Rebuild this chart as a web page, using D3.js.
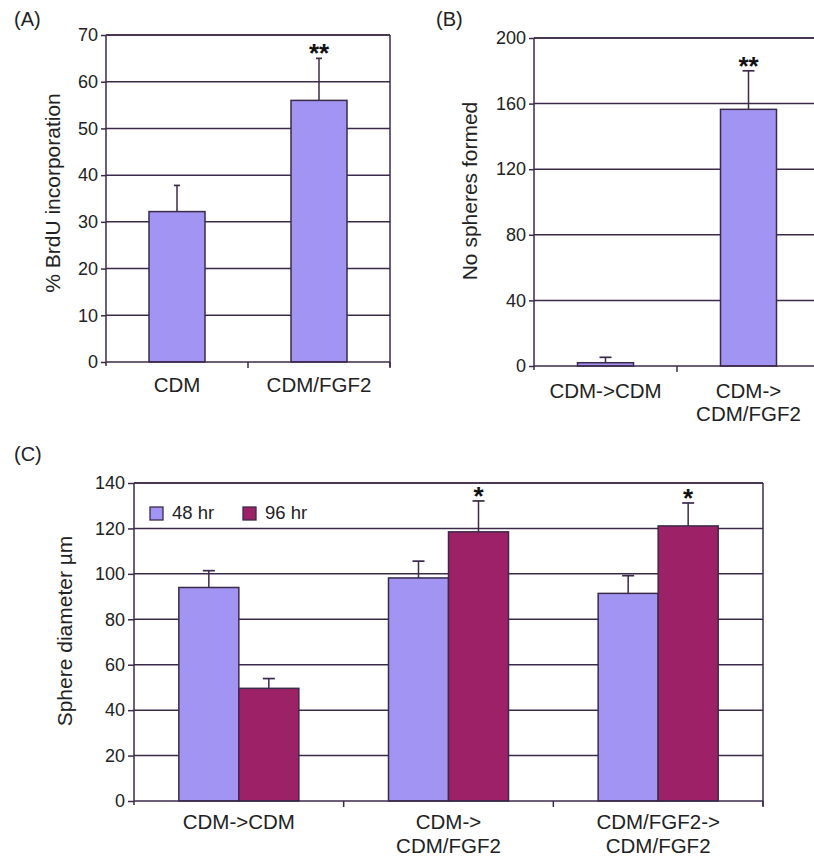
<!DOCTYPE html>
<html>
<head>
<meta charset="utf-8">
<script src="https://cdn.jsdelivr.net/npm/d3@7"></script>
<style>
  html, body { margin: 0; padding: 0; background: #fff; }
  svg text { font-family: "Liberation Sans", Arial, Helvetica, sans-serif; fill: #222; }
</style>
</head>
<body>
<svg id="chart" width="814" height="857"></svg>
<script>
// ---------- Data ----------
// Panel A
const catsA = ["CDM", "CDM/FGF2"];
const valuesA = [32.2, 56.0];
const errorsA = [5.6, 9.0];
const sigA = ["", "**"];
const ticksA = [0, 10, 20, 30, 40, 50, 60, 70];

// Panel B
const catsB = [["CDM->CDM"], ["CDM->", "CDM/FGF2"]];
const valuesB = [2.0, 156.5];
const errorsB = [3.3, 23.5];
const sigB = ["", "**"];
const ticksB = [0, 40, 80, 120, 160, 200];

// Panel C
const catsC = [["CDM->CDM"], ["CDM->", "CDM/FGF2"], ["CDM/FGF2->", "CDM/FGF2"]];
const seriesC = ["48 hr", "96 hr"];
const values48 = [94.0, 98.2, 91.4];
const errors48 = [7.4, 7.4, 7.8];
const values96 = [49.6, 118.5, 121.1];
const errors96 = [4.3, 13.6, 10.1];
const sig96 = ["", "*", "*"];
const ticksC = [0, 20, 40, 60, 80, 100, 120, 140];

// ---------- Styles ----------
const LINE = "#3c2a4a";
const C48 = "#a294f2";
const C96 = "#9c2166";
const TICK_FS = 18, CAT_FS = 20.5, TITLE_FS = 21, PANEL_FS = 20;

const svg = d3.select("#chart");

function frame(g, x0, x1, y, ticks, opts) {
  ticks.forEach((t, i) => {
    if (i === 0) return;
    g.append("line").attr("x1", x0).attr("x2", x1)
      .attr("y1", y(t)).attr("y2", y(t))
      .attr("stroke", LINE).attr("stroke-width", 1.5);
  });
  g.append("line").attr("x1", x1).attr("x2", x1)
    .attr("y1", y(ticks[ticks.length - 1])).attr("y2", y(0) + 5)
    .attr("stroke", LINE).attr("stroke-width", 1.5);
  const ax = g.append("g").attr("transform", `translate(${x0},0)`)
    .call(d3.axisLeft(y).tickValues(ticks).tickSize(opts.tickLen).tickPadding(opts.tickPad));
  ax.select(".domain").attr("stroke", LINE).attr("stroke-width", 1.5)
    .attr("d", `M0,${y(ticks[ticks.length-1])}V${y(0) + 4}`);
  ax.selectAll(".tick line").attr("stroke", LINE).attr("stroke-width", 1.5);
  ax.selectAll(".tick text").attr("font-size", TICK_FS).attr("fill", "#222")
    .attr("font-family", '"Liberation Sans", Arial, sans-serif');
}

function baseline(g, x0, x1, y, sepXs) {
  g.append("line").attr("x1", x0).attr("x2", x1)
    .attr("y1", y(0)).attr("y2", y(0))
    .attr("stroke", LINE).attr("stroke-width", 1.7);
  sepXs.forEach(sx => {
    g.append("line").attr("x1", sx).attr("x2", sx)
      .attr("y1", y(0)).attr("y2", y(0) + 6)
      .attr("stroke", LINE).attr("stroke-width", 1.5);
  });
}

function errorBar(g, cx, yTop, yErr, cap) {
  g.append("line").attr("x1", cx).attr("x2", cx)
    .attr("y1", yTop).attr("y2", yErr)
    .attr("stroke", LINE).attr("stroke-width", 1.5);
  g.append("line").attr("x1", cx - cap / 2).attr("x2", cx + cap / 2)
    .attr("y1", yErr).attr("y2", yErr)
    .attr("stroke", LINE).attr("stroke-width", 1.7);
}

function star(g, cx, yErr, s) {
  if (!s) return;
  g.append("text").attr("x", cx).attr("y", yErr + 4)
    .attr("text-anchor", "middle").attr("font-size", 26).attr("font-weight", "bold")
    .style("fill", "#111").text(s);
}

function catLabels(g, x, cats, yBase, lineH) {
  cats.forEach((c, i) => {
    const lines = Array.isArray(c) ? c : [c];
    lines.forEach((ln, j) => {
      g.append("text").attr("x", x(i) + x.bandwidth() / 2).attr("y", yBase + j * lineH)
        .attr("text-anchor", "middle").attr("font-size", CAT_FS).text(ln);
    });
  });
}

function yTitle(g, xPos, yc, txt) {
  g.append("text").attr("transform", `translate(${xPos},${yc}) rotate(-90)`)
    .attr("text-anchor", "middle").attr("font-size", TITLE_FS).text(txt);
}

function panelLabel(x, y, t) {
  svg.append("text").attr("x", x).attr("y", y).attr("font-size", PANEL_FS).text(t);
}

// ---------- Panel A ----------
{
  const g = svg.append("g");
  const x0 = 106, x1 = 390, yT = 35, yB = 362;
  const y = d3.scaleLinear().domain([0, 70]).range([yB, yT]);
  const x = d3.scaleBand().domain(d3.range(catsA.length)).range([x0, x1]);
  frame(g, x0, x1, y, ticksA, { tickLen: 5, tickPad: 3 });
  g.append("line").attr("x1", x0).attr("x2", x1).attr("y1", yT).attr("y2", yT)
    .attr("stroke", LINE).attr("stroke-width", 1.5);
  const bw = 56;
  valuesA.forEach((v, i) => {
    const cx = x(i) + x.bandwidth() / 2;
    errorBar(g, cx, y(v), y(v + errorsA[i]), 6);
    g.append("rect").attr("x", cx - bw / 2).attr("y", y(v)).attr("width", bw).attr("height", y(0) - y(v))
      .attr("fill", C48).attr("stroke", LINE).attr("stroke-width", 1.5);
    star(g, cx, y(v + errorsA[i]), sigA[i]);
  });
  baseline(g, x0, x1, y, [x(1), x1]);
  catLabels(g, x, catsA, 392, 24);
  yTitle(g, 60, 193, "% BrdU incorporation");
  panelLabel(14, 26, "(A)");
}

// ---------- Panel B ----------
{
  const g = svg.append("g");
  const x0 = 534, x1 = 820, yT = 38, yB = 366;
  const y = d3.scaleLinear().domain([0, 200]).range([yB, yT]);
  const x = d3.scaleBand().domain(d3.range(catsB.length)).range([x0, x1]);
  frame(g, x0, x1, y, ticksB, { tickLen: 5, tickPad: 3 });
  g.append("line").attr("x1", x0).attr("x2", x1).attr("y1", yT).attr("y2", yT)
    .attr("stroke", LINE).attr("stroke-width", 1.5);
  const bw = 56;
  valuesB.forEach((v, i) => {
    const cx = x(i) + x.bandwidth() / 2;
    errorBar(g, cx, y(v), y(v + errorsB[i]), 12);
    g.append("rect").attr("x", cx - bw / 2).attr("y", y(v)).attr("width", bw).attr("height", y(0) - y(v))
      .attr("fill", C48).attr("stroke", LINE).attr("stroke-width", 1.5);
    star(g, cx, y(v + errorsB[i]), sigB[i]);
  });
  baseline(g, x0, x1, y, [x(1)]);
  catLabels(g, x, catsB, 398, 23);
  yTitle(g, 477, 191, "No spheres formed");
  panelLabel(436, 26, "(B)");
}

// ---------- Panel C ----------
{
  const g = svg.append("g");
  const x0 = 134, x1 = 763, yT = 483, yB = 801;
  const y = d3.scaleLinear().domain([0, 140]).range([yB, yT]);
  const x = d3.scaleBand().domain(d3.range(catsC.length)).range([x0, x1]);
  const xs = d3.scaleBand().domain(seriesC).range([-60, 60]);
  frame(g, x0, x1, y, ticksC, { tickLen: 6, tickPad: 3 });
  g.append("line").attr("x1", x0).attr("x2", x1).attr("y1", yT).attr("y2", yT)
    .attr("stroke", LINE).attr("stroke-width", 1.5);
  const series = [
    { name: seriesC[0], vals: values48, errs: errors48, color: C48, sig: ["", "", ""] },
    { name: seriesC[1], vals: values96, errs: errors96, color: C96, sig: sig96 }
  ];
  series.forEach(s => {
    s.vals.forEach((v, i) => {
      const cx = x(i) + x.bandwidth() / 2;
      const bc = cx + xs(s.name) + xs.bandwidth() / 2;
      errorBar(g, bc, y(v), y(v + s.errs[i]), 12);
    });
  });
  series.forEach(s => {
    s.vals.forEach((v, i) => {
      const cx = x(i) + x.bandwidth() / 2;
      const bx = cx + xs(s.name);
      g.append("rect").attr("x", bx).attr("y", y(v)).attr("width", xs.bandwidth()).attr("height", y(0) - y(v))
        .attr("fill", s.color).attr("stroke", LINE).attr("stroke-width", 1.5);
      star(g, bx + xs.bandwidth() / 2, y(v + s.errs[i]), s.sig[i]);
    });
  });
  baseline(g, x0, x1, y, [x(1), x(2), x1]);
  catLabels(g, x, catsC, 829, 24);
  yTitle(g, 72, 631, "Sphere diameter µm");
  panelLabel(14, 461, "(C)");
  const lg = g.append("g");
  const legX = [150, 243];
  series.forEach((s, i) => {
    lg.append("rect").attr("x", legX[i]).attr("y", 507).attr("width", 13).attr("height", 13)
      .attr("fill", s.color).attr("stroke", LINE).attr("stroke-width", 1.3);
    lg.append("text").attr("x", legX[i] + 22).attr("y", 519).attr("font-size", 18.5).text(s.name);
  });
}
</script>
</body>
</html>
